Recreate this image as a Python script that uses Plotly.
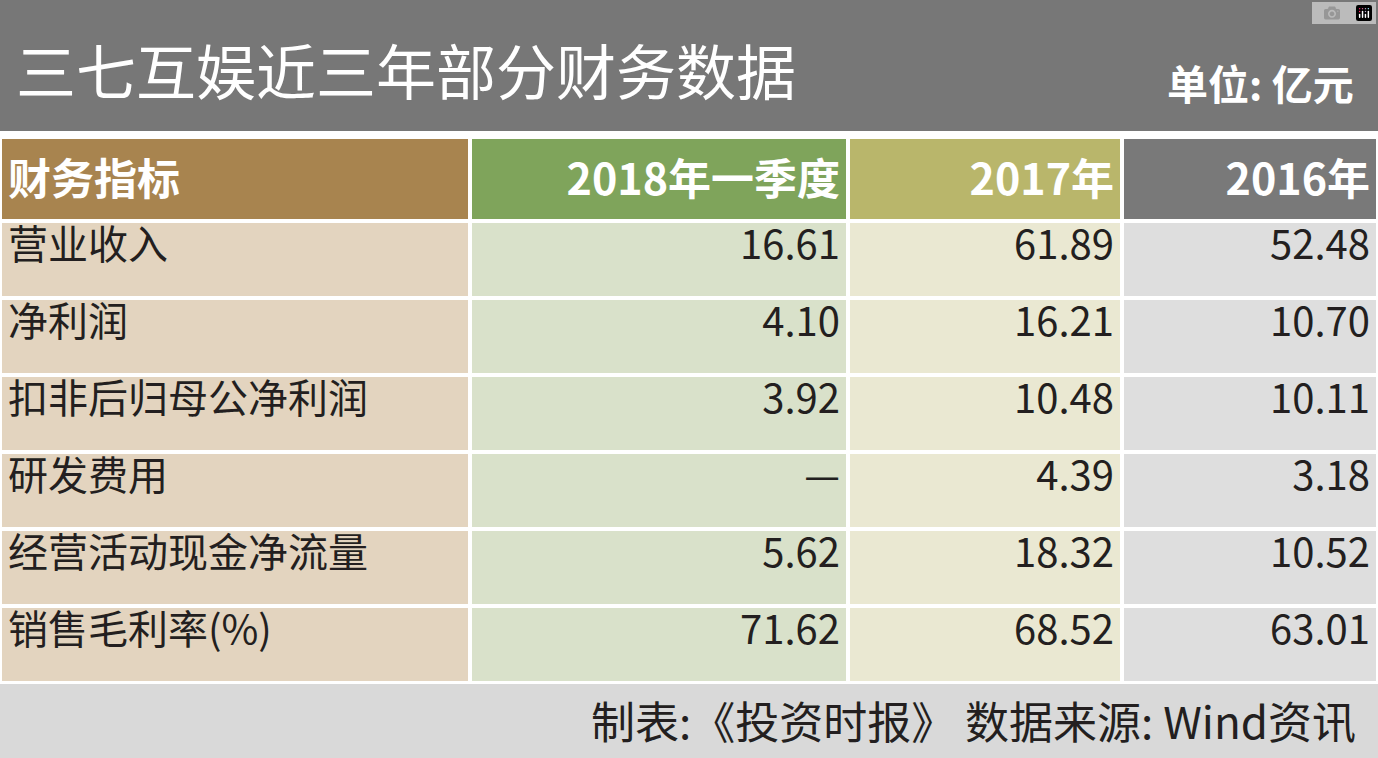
import plotly.graph_objects as go

# data
headers = ["财务指标", "2018年一季度", "2017年", "2016年"]
indicators = ["营业收入", "净利润", "扣非后归母公净利润", "研发费用", "经营活动现金净流量", "销售毛利率(%)"]
q1_2018 = ["16.61", "4.10", "3.92", "—", "5.62", "71.62"]
y2017 = ["61.89", "16.21", "10.48", "4.39", "18.32", "68.52"]
y2016 = ["52.48", "10.70", "10.11", "3.18", "10.52", "63.01"]

title = "三七互娱近三年部分财务数据"
unit = "单位: 亿元"
footer = "制表:《投资时报》 数据来源: Wind资讯"

W, H = 1378, 758
FONT = "Noto Sans CJK SC"

head_colors = ["#a8844f", "#7fa45b", "#b9b66b", "#797979"]
body_colors = ["#e3d4bf", "#d9e1ca", "#eae8d2", "#dedede"]

fig = go.Figure(go.Table(
    domain=dict(x=[0, 1], y=[1 - 682 / H, 1 - 137 / H]),
    columnwidth=[470, 378, 274, 256],
    header=dict(
        values=["<b>%s</b>" % h for h in headers],
        fill_color=head_colors,
        line=dict(color="white", width=4),
        align=["left", "right", "right", "right"],
        font=dict(family=FONT, size=43, color="white"),
        height=84,
    ),
    cells=dict(
        values=[indicators, q1_2018, y2017, y2016],
        fill_color=[[c] * len(indicators) for c in body_colors],
        line=dict(color="white", width=4),
        align=["left", "right", "right", "right"],
        font=dict(family=FONT, size=40, color="#231f20"),
        height=77,
    ),
))

fig.update_layout(
    width=W, height=H,
    margin=dict(l=0, r=0, t=0, b=0),
    paper_bgcolor="white",
    shapes=[
        dict(type="rect", xref="paper", yref="paper", x0=0, x1=1,
             y0=1 - 131 / H, y1=1, fillcolor="#777777", line_width=0, layer="below"),
        dict(type="rect", xref="paper", yref="paper", x0=0, x1=1,
             y0=0, y1=1 - 684 / H, fillcolor="#d9d9d9", line_width=0, layer="below"),
    ],
    annotations=[
        dict(text=title, xref="paper", yref="paper", x=14 / W, y=1 - 68 / H,
             xanchor="left", yanchor="middle", showarrow=False,
             font=dict(family=FONT, size=60, color="white")),
        dict(text="<b>%s</b>" % unit, xref="paper", yref="paper", x=1 - 22 / W, y=1 - 82 / H,
             xanchor="right", yanchor="middle", showarrow=False,
             font=dict(family=FONT, size=41, color="white")),
        dict(text=footer, xref="paper", yref="paper", x=1 - 20 / W, y=1 - 720 / H,
             xanchor="right", yanchor="middle", showarrow=False,
             font=dict(family=FONT, size=44, color="#231f20")),
    ],
)

fig.write_html("out.html", post_script="document.body.style.margin='0';")
